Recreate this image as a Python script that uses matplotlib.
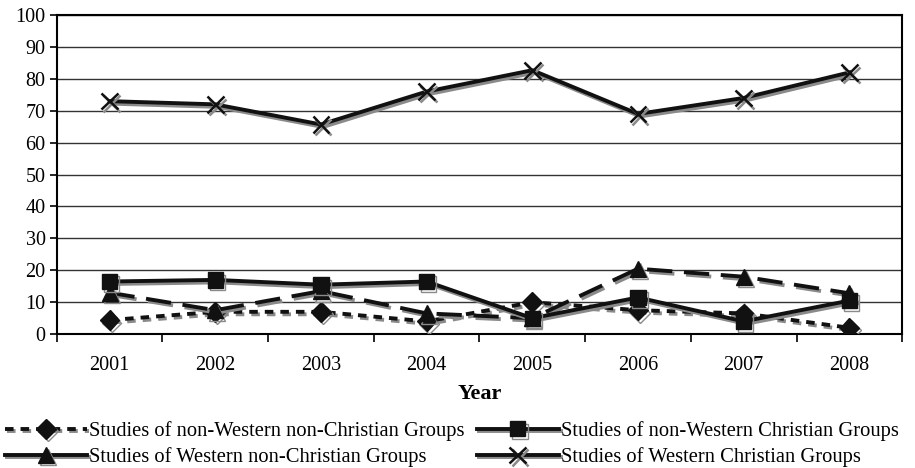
import matplotlib
matplotlib.use("Agg")
import matplotlib.pyplot as plt
import matplotlib.patheffects as pe
from matplotlib.lines import Line2D
import numpy as np

years = ["2001", "2002", "2003", "2004", "2005", "2006", "2007", "2008"]
nonwest_nonchr = [4.4, 7, 7, 4, 10, 7.5, 6.5, 2]
nonwest_chr = [16.5, 17, 15.5, 16.5, 5, 11.5, 4, 10.5]
west_nonchr = [13, 7.5, 13.5, 6.5, 5, 20.5, 18, 12.8]
west_chr = [73, 72, 65.7, 76, 82.7, 69, 74, 82]

labels = ["Studies of non-Western non-Christian Groups",
          "Studies of non-Western Christian Groups",
          "Studies of Western non-Christian Groups",
          "Studies of Western Christian Groups"]

plt.rcParams['font.family'] = ['Liberation Serif', 'DejaVu Serif']

fig = plt.figure(figsize=(9.15, 4.68), dpi=100)
ax = fig.add_axes([0.062, 0.286, 0.924, 0.682])

x = np.arange(len(years))
shadow = [pe.SimpleLineShadow(offset=(1.5, -1.8), shadow_color='#8a8a8a', alpha=1.0), pe.Normal()]

common = dict(color='#111111', lw=2.8, path_effects=shadow, zorder=3)
l1, = ax.plot(x, nonwest_nonchr, marker='D', markersize=10, dashes=(2.2, 1.8), label=labels[0], **common)
l3, = ax.plot(x, west_nonchr, marker='^', markersize=11.5, dashes=(6.5, 3), label=labels[2], **common)
l2, = ax.plot(x, nonwest_chr, marker='s', markersize=11, label=labels[1], **common)
l4, = ax.plot(x, west_chr, marker='x', markersize=12, markeredgewidth=1.8, label=labels[3], **common)

ax.set_xlim(-0.5, 7.5)
ax.set_ylim(0, 100)
ax.set_yticks(np.arange(0, 101, 10))
ax.set_xticks(x)
ax.set_xticklabels(years)
ax.set_xticks(np.arange(-0.5, 8, 1), minor=True)
ax.tick_params(axis='x', which='major', length=0, labelsize=14.5, pad=16)
ax.tick_params(axis='x', which='minor', length=6, width=1.2, direction='out')
ax.tick_params(axis='y', length=5, width=1.2, labelsize=14.5, pad=3)
ax.yaxis.grid(True, color='#333333', lw=1.0)
ax.set_axisbelow(True)
for s in ax.spines.values():
    s.set_linewidth(1.5)
    s.set_color('black')

ax.set_xlabel("Year", fontsize=16, fontweight='bold', labelpad=6)

# legend proxy for the triangle series drawn solid, as in the reference legend
leg_tri = Line2D([], [], color='#111111', lw=2.8, marker='^', markersize=11.5,
                 path_effects=shadow, label=labels[2])

fig.legend(handles=[l1, leg_tri, l2, l4], loc='lower left', bbox_to_anchor=(5 / 915, 0.002),
           ncol=2, frameon=False, fontsize=14.8, handlelength=4.0, handletextpad=0.1,
           columnspacing=0.58, labelspacing=0.3, borderpad=0.0, borderaxespad=0.0)

fig.savefig("out.png", dpi=100)
